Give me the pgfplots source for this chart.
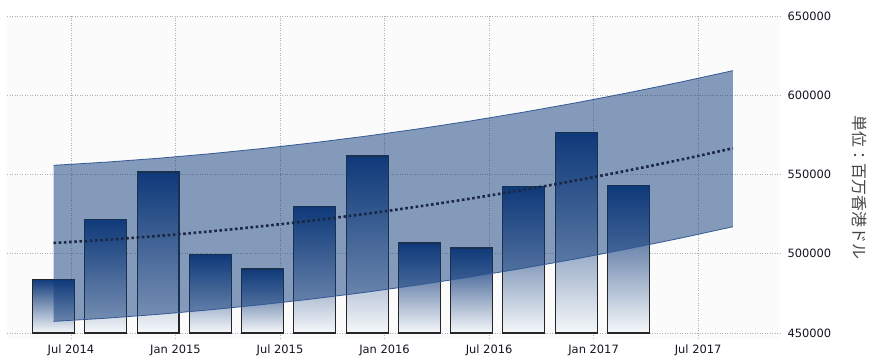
\documentclass[border=0pt]{standalone}
\usepackage{fontspec}
\setmainfont{DejaVu Sans}
\newfontfamily\cjk{Noto Sans CJK JP}
\usepackage{pgfplots}
\usepackage{pgfplotstable}
\pgfplotsset{compat=1.18}
\usepgfplotslibrary{fillbetween}
\definecolor{navy}{RGB}{16,58,122}
\definecolor{barmid}{RGB}{118,136,160}
\definecolor{barbot}{RGB}{246,248,250}
\definecolor{bandfill}{RGB}{14,58,122}
\definecolor{bandedge}{RGB}{70,104,162}
\definecolor{trendc}{RGB}{26,40,70}
\definecolor{gridc}{RGB}{175,175,180}
\definecolor{tickc}{RGB}{20,20,32}
\definecolor{labc}{RGB}{70,70,70}
\definecolor{bgc}{RGB}{251,251,251}

\pgfplotstableread{
m trend upper lower
5 506800 555800 457300
8 508800 557800 459300
11 511240 560240 461740
14 514110 563110 464610
17 517410 566410 467910
20 521140 570140 471640
23 525300 574300 475800
26 529900 578900 480400
29 534920 583920 485420
32 540380 589380 490880
35 546270 595270 496770
38 552600 601600 503100
41 559350 608350 509850
44 566540 615540 517040
}\band

\pgfplotsset{mybar/.style={ybar, bar width=2.41, bar shift=0pt, draw=black!85, line width=1.1bp,
  top color=navy, middle color=barmid, bottom color=barbot}}

\begin{document}
\begin{tikzpicture}
\begin{axis}[
  at={(7bp,25bp)}, anchor=south west,
  scale only axis, width=773bp, height=323bp,
  xmin=2.33, xmax=46.7,
  ymin=-3785, ymax=200000,
  y filter/.expression={y-450000},
  scaled y ticks=false,
  axis background/.style={fill=bgc},
  axis line style={draw=none},
  tick style={draw=none},
  major tick length=0pt,
  xtick={6,12,18,24,30,36,42},
  xticklabels={Jul 2014,Jan 2015,Jul 2015,Jan 2016,Jul 2016,Jan 2017,Jul 2017},
  ytick={0,50000,100000,150000,200000},
  yticklabels={450000,500000,550000,600000,650000},
  yticklabel pos=right,
  xmajorgrids, ymajorgrids,
  grid style={gridc, line width=0.6bp, dash pattern=on 1bp off 1.5bp},
  ticklabel style={font=\fontsize{11.5}{13}\selectfont, text=tickc},
  xticklabel style={yshift=-2bp},
  yticklabel style={anchor=west, xshift=4bp},
  fill between/on layer=main,
  clip=false,
]
\addplot[mybar] coordinates {(5,483900)};
\addplot[mybar] coordinates {(8,521700)};
\addplot[mybar] coordinates {(11,551600)};
\addplot[mybar] coordinates {(14,499700)};
\addplot[mybar] coordinates {(17,490400)};
\addplot[mybar] coordinates {(20,529900)};
\addplot[mybar] coordinates {(23,561700)};
\addplot[mybar] coordinates {(26,506800)};
\addplot[mybar] coordinates {(29,503600)};
\addplot[mybar] coordinates {(32,542300)};
\addplot[mybar] coordinates {(35,576600)};
\addplot[mybar] coordinates {(38,543200)};
\addplot[name path=U, draw=bandedge, line width=0.8bp] table[x=m, y=upper] {\band};
\addplot[name path=L, draw=bandedge, line width=0.8bp] table[x=m, y=lower] {\band};
\addplot[fill=bandfill, fill opacity=0.5, draw=none] fill between[of=U and L];
\addplot[trendc, line width=2.6bp, dash pattern=on 2.6bp off 2.6bp, smooth]
  table[x=m, y=trend] {\band};
\end{axis}
\node[rotate=-90, font=\cjk\fontsize{16}{18}\selectfont, text=labc] at (860bp,176.5bp) {単位：百万香港ドル};
\pgfresetboundingbox
\path (0,0) rectangle (878bp,364bp);
\end{tikzpicture}
\end{document}
